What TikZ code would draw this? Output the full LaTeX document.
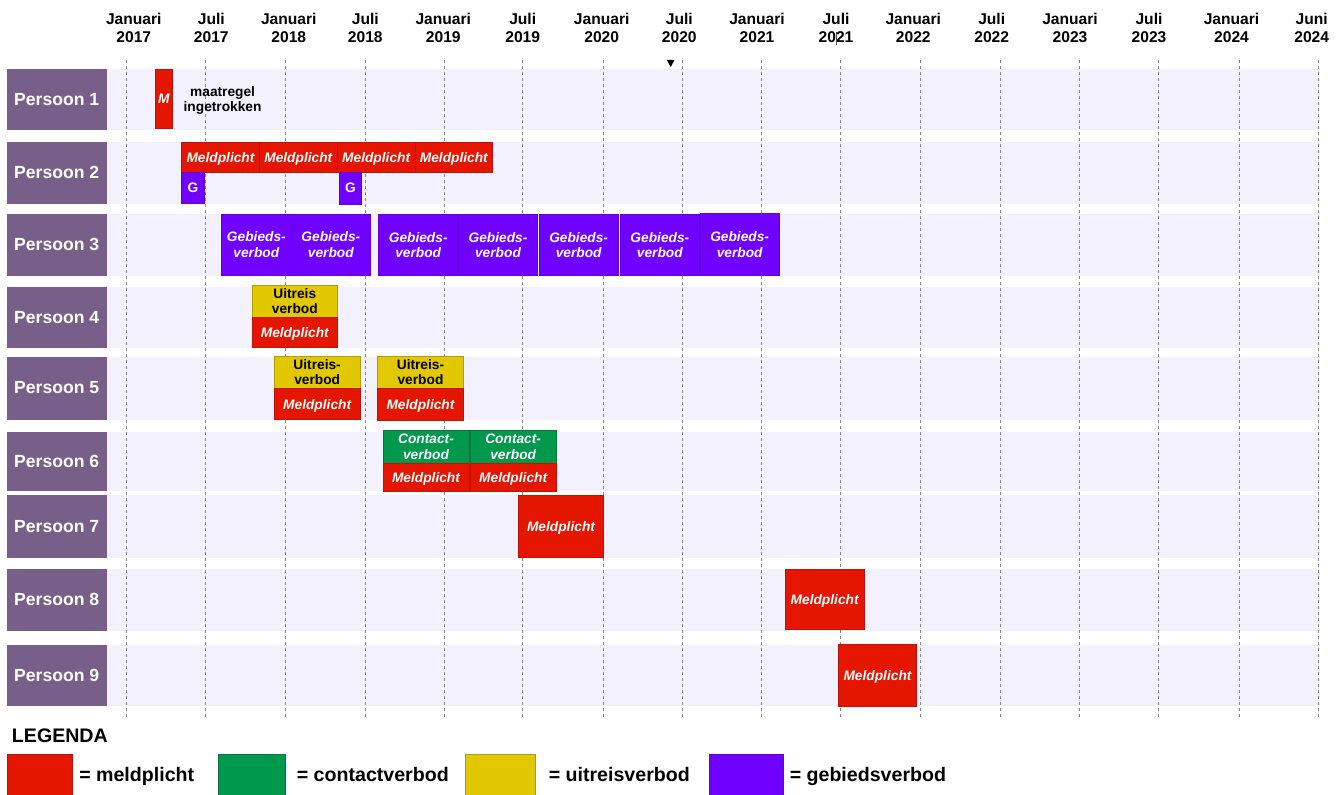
\documentclass[tikz,border=0pt]{standalone}
\usepackage{fontspec}
\setmainfont{Liberation Sans}
\usetikzlibrary{calc}
\definecolor{mred}{RGB}{228,22,0}
\definecolor{mredb}{RGB}{190,18,10}
\definecolor{mpur}{RGB}{112,0,255}
\definecolor{mpurb}{RGB}{95,0,215}
\definecolor{mgrn}{RGB}{0,152,76}
\definecolor{mgrnb}{RGB}{0,118,58}
\definecolor{myel}{RGB}{226,200,0}
\definecolor{myelb}{RGB}{180,155,0}
\definecolor{pers}{RGB}{119,95,137}
\definecolor{bandc}{RGB}{244,241,254}
\definecolor{gridc}{RGB}{135,135,135}
\newcommand\boxfontI{\fontsize{10.3}{11.5}\selectfont\bfseries\itshape}
\newcommand\boxfontB{\fontsize{10.3}{11.5}\selectfont\bfseries}
\newcommand\blk[7]{\path[#1] (#3,#4) rectangle (#5,#6);
  \node[#1, draw=none, fill=none] (#2) at ($(#3,#4)!0.5!(#5,#6)$) {#7};}
\tikzset{
  cell/.style={inner sep=0pt, line width=0.7pt, align=center},
  redc/.style={cell, fill=mred, draw=mredb, text=white, font=\boxfontI, text depth=0pt},
  purc/.style={cell, fill=mpur, draw=mpurb, text=white, font=\boxfontI},
  purg/.style={cell, fill=mpur, draw=mpurb, text=white, font=\boxfontB},
  grnc/.style={cell, fill=mgrn, draw=mgrnb, text=white, font=\boxfontI},
  yelc/.style={cell, fill=myel, draw=myelb, text=black, font=\boxfontB},
  persbox/.style={inner sep=0pt, fill=pers, text=white, font=\fontsize{13.2}{15}\selectfont\bfseries},
  bandbox/.style={inner sep=0pt, fill=bandc},
  hdr/.style={inner sep=0pt, align=center, font=\fontsize{11.7}{13.3}\selectfont\bfseries},
  gridl/.style={draw=gridc, line width=0.75pt, dash pattern=on 2.25pt off 2.25pt},
  legbox/.style={inner sep=0pt, line width=0.7pt},
  legtxt/.style={inner sep=0pt, anchor=base west, font=\fontsize{14.7}{17}\selectfont\bfseries}
}
\begin{document}
\begin{tikzpicture}[x=0.75pt,y=-0.75pt]
\useasboundingbox (0,0) rectangle (1343,794);
% header labels
\node[hdr] (h1) at (133.8,27.8) {Januari\\2017};
\node[hdr] (h2) at (211.3,27.8) {Juli\\2017};
\node[hdr] (h3) at (288.8,27.8) {Januari\\2018};
\node[hdr] (h4) at (365.3,27.8) {Juli\\2018};
\node[hdr] (h5) at (443.3,27.8) {Januari\\2019};
\node[hdr] (h6) at (522.7,27.8) {Juli\\2019};
\node[hdr] (h7) at (601.7,27.8) {Januari\\2020};
\node[hdr] (h8) at (679.3,27.8) {Juli\\2020};
\node[hdr] (h9) at (757.0,27.8) {Januari\\2021};
\node[hdr] (h10) at (836.0,27.8) {Juli\\2021};
\node[hdr] (h11) at (913.3,27.8) {Januari\\2022};
\node[hdr] (h12) at (991.7,27.8) {Juli\\2022};
\node[hdr] (h13) at (1070.0,27.8) {Januari\\2023};
\node[hdr] (h14) at (1149.0,27.8) {Juli\\2023};
\node[hdr] (h15) at (1231.5,27.8) {Januari\\2024};
\node[hdr] (h16) at (1311.7,27.8) {Juni\\2024};
\draw[line width=0.6pt, draw=black!70] (836.7,31.7) -- (836.7,45);
\fill[black] (666.8,59.8) -- (674.6,59.8) -- (670.7,67) -- cycle;
% bands and persons
\blk{bandbox}{b1}{7}{69}{1320}{130}{}
\blk{bandbox}{b2}{7}{142}{1320}{203.5}{}
\blk{bandbox}{b3}{7}{213.5}{1320}{275.5}{}
\blk{bandbox}{b4}{7}{286.5}{1320}{348}{}
\blk{bandbox}{b5}{7}{356.5}{1320}{419.5}{}
\blk{bandbox}{b6}{7}{431.5}{1320}{490.7}{}
\blk{bandbox}{b7}{7}{495}{1320}{557.7}{}
\blk{bandbox}{b8}{7}{569.3}{1320}{630.5}{}
\blk{bandbox}{b9}{7}{644.5}{1320}{706}{}
\blk{persbox}{p1}{7}{69}{106.5}{130}{Persoon 1}
\blk{persbox}{p2}{7}{142}{106.5}{203.5}{Persoon 2}
\blk{persbox}{p3}{7}{213.5}{106.5}{275.5}{Persoon 3}
\blk{persbox}{p4}{7}{286.5}{106.5}{348}{Persoon 4}
\blk{persbox}{p5}{7}{356.5}{106.5}{419.5}{Persoon 5}
\blk{persbox}{p6}{7}{431.5}{106.5}{490.7}{Persoon 6}
\blk{persbox}{p7}{7}{495}{106.5}{557.7}{Persoon 7}
\blk{persbox}{p8}{7}{569.3}{106.5}{630.5}{Persoon 8}
\blk{persbox}{p9}{7}{644.5}{106.5}{706}{Persoon 9}
% grid
\foreach \gx in {126.5,205.7,285,365.5,444,522.7,603.3,682.7,761.7,840.7,920.7,1000.7,1079,1158.3,1239,1318.5}
  \draw[gridl] (\gx,60) -- (\gx,718);
% row 1
\blk{redc}{r1a}{155.7}{69.5}{172}{128.5}{M}
\node[inner sep=0pt, align=center, font=\boxfontB] (r1t) at (222.6,100.8) {maatregel\\ingetrokken};
% row 2
\blk{redc}{r2a}{181.7}{142.3}{259.3}{172.3}{Meldplicht}
\blk{redc}{r2b}{259.3}{142.3}{337.3}{172.3}{Meldplicht}
\blk{redc}{r2c}{337.3}{142.3}{415}{172.3}{Meldplicht}
\blk{redc}{r2d}{415}{142.3}{492.7}{172.3}{Meldplicht}
\blk{purg}{r2g1}{181.7}{172.3}{204}{203.3}{G}
\blk{purg}{r2g2}{339}{172.3}{361.7}{204}{G}
% row 3
\blk{purc}{r3a}{221}{214}{291.7}{275.3}{Gebieds-\\verbod}
\blk{purc}{r3b}{291.7}{214}{370}{275.3}{Gebieds-\\verbod}
\blk{purc}{r3c}{378.7}{214.5}{457.7}{275.3}{Gebieds-\\verbod}
\blk{purc}{r3d}{458.3}{214.5}{537.7}{275.3}{Gebieds-\\verbod}
\blk{purc}{r3e}{539}{214.5}{618.3}{275.3}{Gebieds-\\verbod}
\blk{purc}{r3f}{620.7}{214.5}{699}{275.3}{Gebieds-\\verbod}
\blk{purc}{r3g}{700}{213.7}{779.3}{275.3}{Gebieds-\\verbod}
% row 4
\blk{yelc}{r4u}{252.3}{285.3}{337.3}{317}{Uitreis\\verbod}
\blk{redc}{r4m}{252.3}{317}{337.3}{347.7}{Meldplicht}
% row 5
\blk{yelc}{r5u1}{274.3}{356}{360}{388.7}{Uitreis-\\verbod}
\blk{redc}{r5m1}{274.3}{388.7}{360}{419.7}{Meldplicht}
\blk{yelc}{r5u2}{377.7}{356}{463.3}{388.7}{Uitreis-\\verbod}
\blk{redc}{r5m2}{377.7}{388.7}{463.3}{420.7}{Meldplicht}
% row 6
\blk{grnc}{r6c1}{383}{430.3}{469}{463}{Contact-\\verbod}
\blk{redc}{r6m1}{383}{463}{469}{491.3}{Meldplicht}
\blk{grnc}{r6c2}{470.3}{430.3}{556}{463}{Contact-\\verbod}
\blk{redc}{r6m2}{470.3}{463}{556}{491.3}{Meldplicht}
% rows 7-9
\blk{redc}{r7m}{518.3}{495}{603.7}{557.7}{Meldplicht}
\blk{redc}{r8m}{785.3}{569.3}{864}{629.7}{Meldplicht}
\blk{redc}{r9m}{838.7}{644.3}{916.3}{706}{Meldplicht}
% legend
\node[legtxt] (leg) at (11.7,742) {LEGENDA};
\blk{legbox,fill=mred,draw=mredb}{lr}{7.3}{754}{72.3}{797}{}
\blk{legbox,fill=mgrn,draw=mgrnb}{lg}{218.3}{754}{285.7}{797}{}
\blk{legbox,fill=myel,draw=myelb}{ly}{465.6}{754}{535.7}{797}{}
\blk{legbox,fill=mpur,draw=mpurb}{lp}{709.8}{754}{783.8}{797}{}
\node[legtxt] (lrt) at (79,781.5) {= meldplicht};
\node[legtxt] (lgt) at (296.6,781.5) {= contactverbod};
\node[legtxt] (lyt) at (548.5,781.5) {= uitreisverbod};
\node[legtxt] (lpt) at (789.5,781.5) {= gebiedsverbod};
\end{tikzpicture}
\end{document}
